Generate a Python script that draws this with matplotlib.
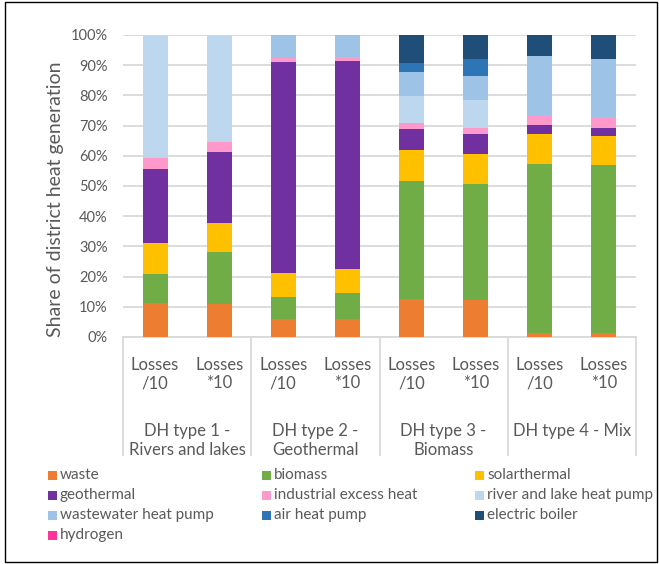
import numpy as np
import matplotlib.pyplot as plt
from matplotlib.patches import Rectangle
from matplotlib.lines import Line2D

plt.rcParams['font.family'] = ['Lato', 'DejaVu Sans']

bar_labels = ['Losses\n/10', 'Losses\n*10'] * 4
group_labels = ['DH type 1 -\nRivers and lakes', 'DH type 2 -\nGeothermal',
                'DH type 3 -\nBiomass', 'DH type 4 - Mix']

techs = ['waste', 'biomass', 'solarthermal', 'geothermal', 'industrial excess heat',
         'river and lake heat pump', 'wastewater heat pump', 'air heat pump',
         'electric boiler', 'hydrogen']
colors = ['#ED7D31', '#70AD47', '#FFC000', '#7030A0', '#FF99CC',
          '#BDD7EE', '#9DC3E6', '#2E75B6', '#1F4E79', '#FF3399']

# shares in %, one list per technology, 8 bars
waste        = [11.4, 10.9, 6.1, 5.9, 12.5, 12.1, 1.3, 1.3]
biomass      = [9.6, 17.3, 7.0, 8.8, 39.3, 38.5, 56.0, 55.5]
solarthermal = [10.1, 9.6, 8.1, 7.9, 10.0, 9.9, 9.9, 9.6]
geothermal   = [24.4, 23.3, 69.8, 68.9, 7.0, 6.7, 2.9, 2.9]
industrial   = [3.7, 3.4, 1.5, 1.3, 2.1, 1.9, 3.0, 3.1]
river_hp     = [40.8, 35.5, 0.0, 0.0, 8.9, 9.3, 0.0, 0.0]
wastewater   = [0.0, 0.0, 7.5, 7.2, 8.0, 8.1, 20.1, 19.5]
air_hp       = [0.0, 0.0, 0.0, 0.0, 2.8, 5.5, 0.0, 0.0]
el_boiler    = [0.0, 0.0, 0.0, 0.0, 9.4, 8.0, 6.8, 8.1]
hydrogen     = [0.0] * 8

series = [waste, biomass, solarthermal, geothermal, industrial,
          river_hp, wastewater, air_hp, el_boiler, hydrogen]

txt = '#595959'
grid = '#D9D9D9'
W, H = 659, 564

fig = plt.figure(figsize=(W / 100, H / 100), dpi=100)
ax = fig.add_axes([123 / W, 1 - 337 / H, 513 / W, 302 / H])

x = np.arange(len(bar_labels))
bottom = np.zeros(len(x))
for name, vals, c in zip(techs, series, colors):
    vals = np.array(vals)
    ax.bar(x, vals, 0.39, bottom=bottom, color=c, label=name, zorder=3)
    bottom += vals

ax.set_xlim(-0.5, 7.5)
ax.set_ylim(0, 100)
ax.set_yticks(np.arange(0, 101, 10))
ax.set_yticklabels([f'{v}%' for v in range(0, 101, 10)], fontsize=10.5, color=txt)
ax.yaxis.grid(True, color=grid, linewidth=1.3, zorder=0)
ax.tick_params(axis='y', length=0, pad=11)
ax.tick_params(axis='x', length=0, labelbottom=False)
for s in ['top', 'right', 'left']:
    ax.spines[s].set_visible(False)
ax.spines['bottom'].set_color(grid)
ax.spines['bottom'].set_linewidth(1.3)
ax.set_ylabel('Share of district heat generation', fontsize=14, color=txt)
ax.yaxis.set_label_coords(-0.115, 0.455)

# two-level category axis
for xi, lab in zip(x, bar_labels):
    ax.text(xi, -6.5, lab, ha='center', va='top', fontsize=12, color=txt,
            linespacing=1.2, clip_on=False)
for gi, glab in enumerate(group_labels):
    ax.text(2 * gi + 0.5, -28.5, glab, ha='center', va='top', fontsize=12,
            color=txt, linespacing=1.2, clip_on=False)
for sx in [-0.5, 1.5, 3.5, 5.5, 7.5]:
    ax.add_line(Line2D([sx, sx], [0, -39], color=grid, linewidth=1.3, clip_on=False))

# legend, filled row by row like the original
col_x = [48, 262, 475]
row_y = [475, 495, 515, 535]
for i, (t, c) in enumerate(zip(techs, colors)):
    px = col_x[i % 3]
    py = row_y[i // 3]
    fig.patches.append(Rectangle((px / W, 1 - (py + 4.5) / H), 9 / W, 9 / H,
                                 transform=fig.transFigure, facecolor=c,
                                 edgecolor='none'))
    fig.text((px + 12) / W, 1 - py / H, t, ha='left', va='center',
             fontsize=11, color=txt)

fig.patches.append(Rectangle((5 / W, 2 / H), 652 / W, 560 / H, transform=fig.transFigure,
                             fill=False, edgecolor='#000000', linewidth=1.0))

fig.savefig('out.png', dpi=100, facecolor='white')
